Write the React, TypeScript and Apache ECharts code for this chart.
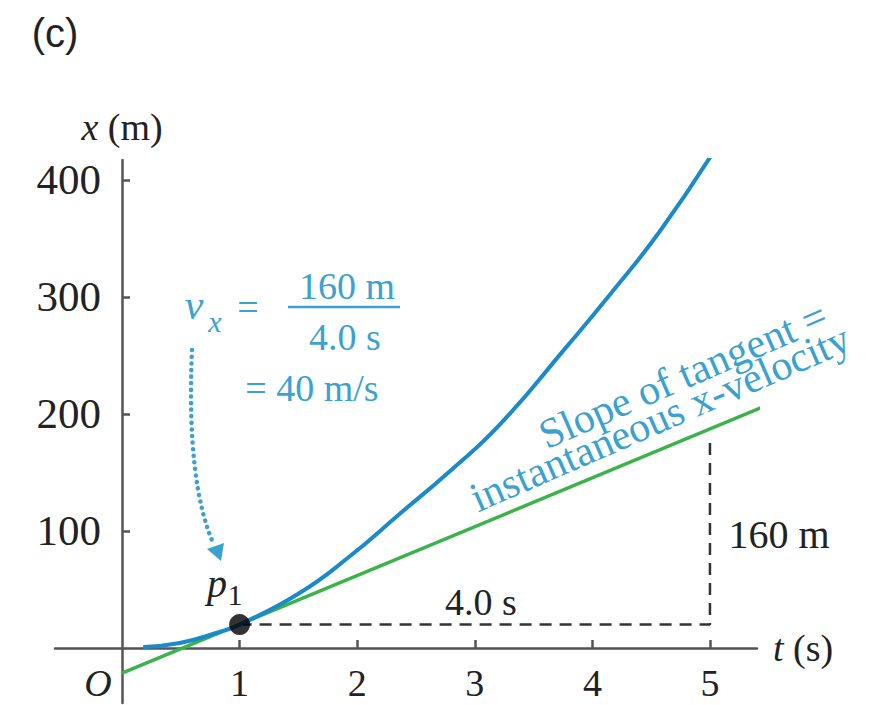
import React, { useEffect, useRef } from "react";
import * as echarts from "echarts";

// ---- data ----
const xTicks = [1, 2, 3, 4, 5];
const yTicks = [100, 200, 300, 400];
const curveT = [0.18, 0.49, 0.83, 1.0, 1.51, 1.94, 2.36, 2.79, 3.21, 3.78, 4.15, 4.58, 5.04];
const curveX = [0.9, 4.3, 13.7, 20, 47, 78.6, 114.5, 151.3, 190.6, 257.3, 302, 357, 425.6];
const tangentT = [0, 5.5];
const tangentX = [-21.5, 208];
const pointP1 = [1, 20];
const runRiseT = [1, 5, 5];
const runRiseX = [20, 20, 180];

export default function App() {
  const ref = useRef<HTMLDivElement>(null);
  useEffect(() => {
    const chart = echarts.init(ref.current!, null, { renderer: "svg" });
    const serif = "'Liberation Serif', 'Times New Roman', serif";
    const sans = "'Liberation Sans', Arial, sans-serif";
    const blue = "#1a8ac9";
    const green = "#3cb34a";
    const textBlue = "#3ba2cf";
    const axisColor = "#555";
    const ink = "#222";

    const txt = (
      text: string,
      x: number,
      y: number,
      size: number,
      fill: string,
      opts: any = {}
    ) => ({
      type: "text",
      x,
      y,
      rotation: opts.rotation || 0,
      style: {
        text,
        fill,
        fontSize: size,
        lineHeight: Math.round(size * 0.85),
        fontFamily: opts.family || serif,
        fontStyle: opts.italic ? "italic" : "normal",
        align: opts.align || "center",
        verticalAlign: "middle",
      },
      z: 100,
    });

    chart.setOption({
      animation: false,
      backgroundColor: "#ffffff",
      grid: { left: 55, right: 116, top: 160, bottom: 2, outerBoundsMode: "none" },
      xAxis: {
        type: "value",
        min: -0.57,
        max: 5.4,
        position: "bottom",
        offset: -55,
        name: "{i|t}{n| (s)}",
        nameLocation: "end",
        nameGap: 16,
        nameTextStyle: {
          rich: {
            i: { fontFamily: serif, fontStyle: "italic", fontSize: 38, color: ink },
            n: { fontFamily: serif, fontSize: 38, color: ink },
          },
        },
        axisLine: { onZero: false, lineStyle: { color: axisColor, width: 2.5 } },
        axisTick: {
          show: true,
          inside: true,
          length: 8,
          customValues: xTicks,
          lineStyle: { color: axisColor, width: 2.5 },
        },
        axisLabel: {
          customValues: xTicks,
          margin: 18,
          fontSize: 38,
          lineHeight: 34,
          fontFamily: serif,
          color: ink,
        },
        splitLine: { show: false },
      },
      yAxis: {
        type: "value",
        min: -47,
        max: 417,
        position: "left",
        offset: -67,
        name: "{i|x}{n| (m)}",
        nameLocation: "end",
        nameGap: 33,
        nameTextStyle: {
          align: "center",
          verticalAlign: "middle",
          rich: {
            i: { fontFamily: serif, fontStyle: "italic", fontSize: 38, color: ink },
            n: { fontFamily: serif, fontSize: 38, color: ink },
          },
        },
        axisLine: { onZero: false, lineStyle: { color: axisColor, width: 2.5 } },
        axisTick: {
          show: true,
          inside: true,
          length: 8,
          customValues: yTicks,
          lineStyle: { color: axisColor, width: 2.5 },
        },
        axisLabel: {
          customValues: yTicks,
          margin: 21,
          fontSize: 43,
          fontFamily: serif,
          color: ink,
        },
        splitLine: { show: false },
      },
      series: [
        {
          type: "line",
          name: "run-rise",
          data: runRiseT.map((t, i) => [t, runRiseX[i]]),
          showSymbol: false,
          lineStyle: { color: "#333", width: 2.5, type: [12, 8] },
          z: 1,
        },
        {
          type: "line",
          name: "tangent",
          data: tangentT.map((t, i) => [t, tangentX[i]]),
          showSymbol: false,
          lineStyle: { color: green, width: 3.5 },
          z: 2,
        },
        {
          type: "line",
          name: "x(t)",
          data: curveT.map((t, i) => [t, curveX[i]]),
          smooth: 0.5,
          showSymbol: false,
          lineStyle: { color: blue, width: 4 },
          z: 3,
        },
        {
          type: "scatter",
          name: "p1",
          data: [pointP1],
          symbolSize: 21,
          itemStyle: { color: "#000" },
          z: 5,
        },
      ],
      graphic: [
        txt("(c)", 55, 33, 40, ink, { family: sans }),
        txt("O", 98, 683, 38, ink, { italic: true }),
        txt("p", 217, 583, 40, ink, { italic: true }),
        txt("1", 235, 594, 30, ink),
        txt("4.0 s", 481, 602, 38, ink),
        txt("160 m", 779, 534, 40, ink),
        // blue velocity annotation
        txt("v", 194, 305, 42, textBlue, { italic: true }),
        txt("x", 215, 321, 30, textBlue, { italic: true }),
        txt("=", 248, 307, 38, textBlue),
        txt("160 m", 347, 286, 38, textBlue),
        {
          type: "line",
          shape: { x1: 288, y1: 307, x2: 400, y2: 307 },
          style: { stroke: textBlue, lineWidth: 2.5 },
        },
        txt("4.0 s", 345, 337, 38, textBlue),
        txt("= 40 m/s", 312, 388, 38, textBlue),
        // rotated caption
        txt("Slope of tangent =", 683, 375, 42, textBlue, { rotation: 0.41 }),
        txt("instantaneous x-velocity", 660, 418, 42, textBlue, { rotation: 0.41 }),
        // dotted arrow
        {
          type: "bezierCurve",
          shape: {
            x1: 192,
            y1: 350,
            cpx1: 188,
            cpy1: 440,
            cpx2: 196,
            cpy2: 505,
            x2: 214,
            y2: 545,
          },
          style: {
            stroke: textBlue,
            lineWidth: 4.5,
            lineDash: [0.1, 6.5],
            lineCap: "round",
            fill: "none",
          },
        },
        {
          type: "polygon",
          shape: {
            points: [
              [221, 561],
              [224, 543],
              [207, 549],
            ],
          },
          style: { fill: textBlue },
        },
      ],
    });
    return () => chart.dispose();
  }, []);
  return (
    <div
      ref={ref}
      style={{ position: "fixed", left: 0, top: 0, width: 873, height: 705, background: "#fff" }}
    />
  );
}
